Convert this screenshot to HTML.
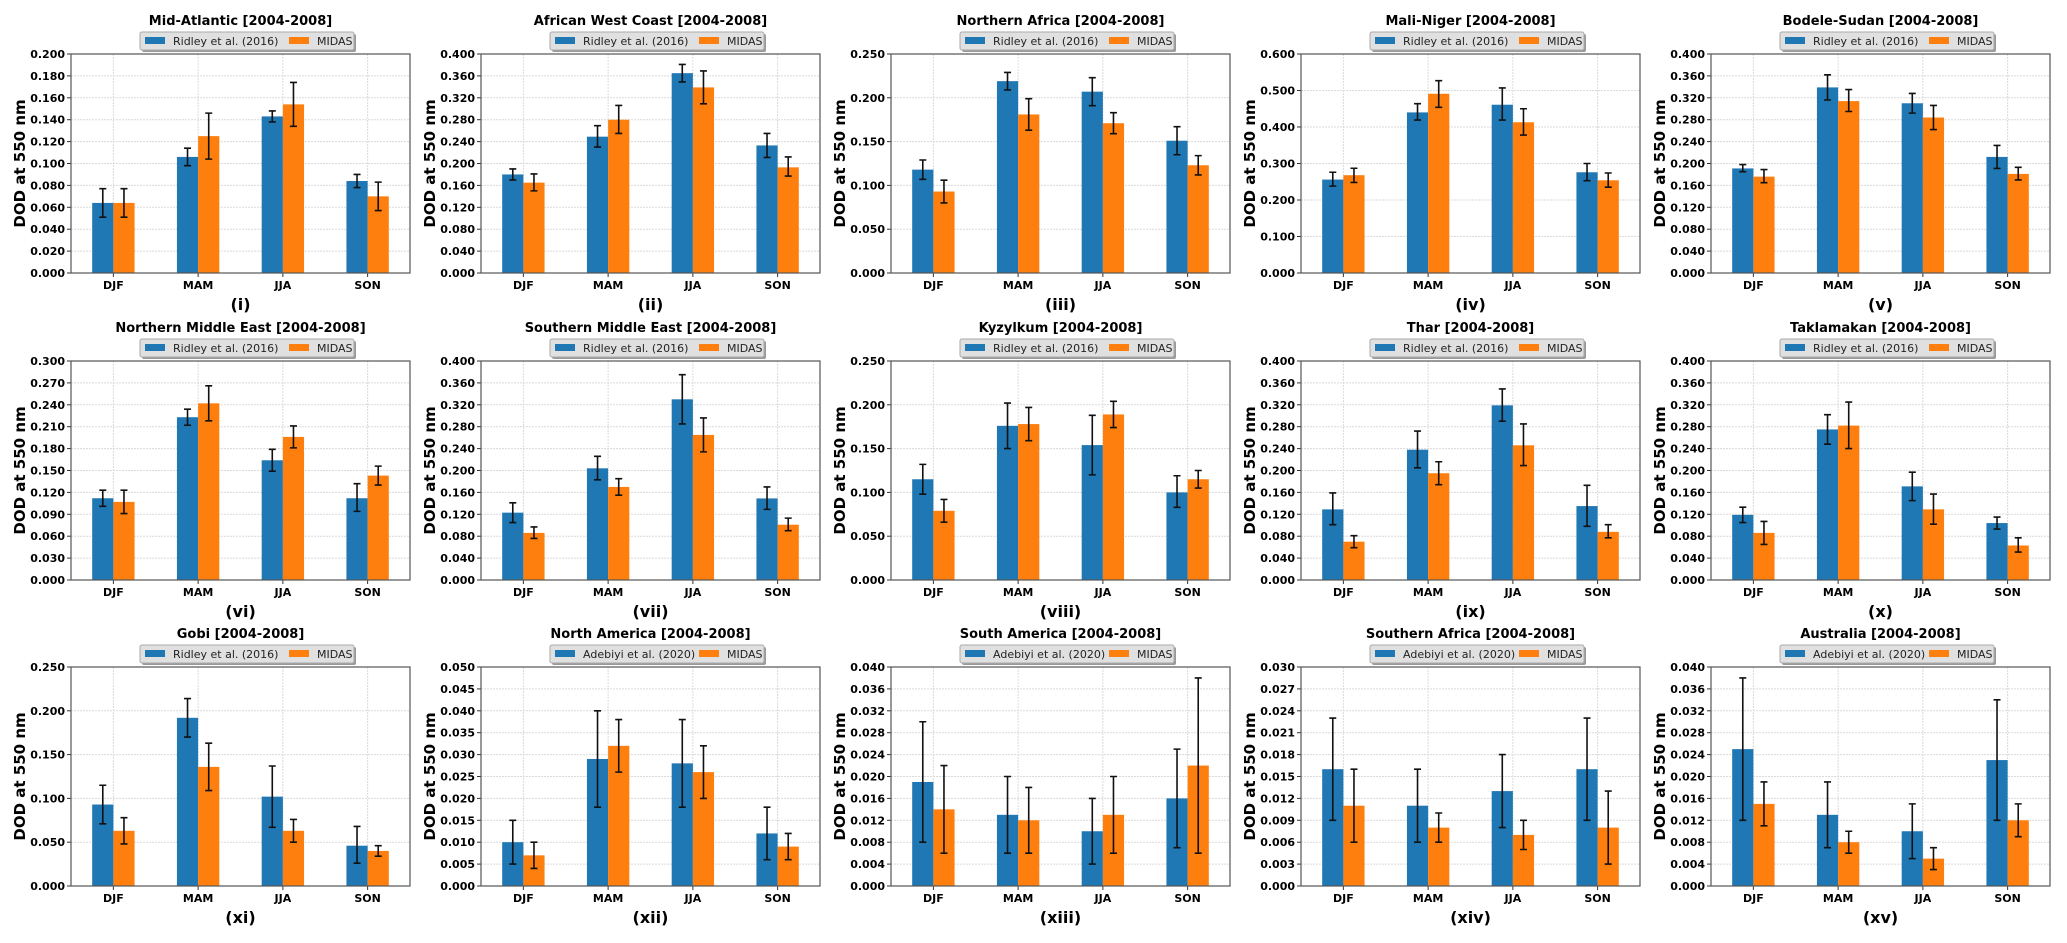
<!DOCTYPE html>
<html><head><meta charset="utf-8">
<style>
html,body{margin:0;padding:0;background:#fff;}
svg{display:block;font-family:"DejaVu Sans","Liberation Sans",sans-serif;}
</style></head>
<body>
<svg id="fig" width="2067" height="943" viewBox="0 0 2067 943"></svg>
<script>
const seasons = ["DJF","MAM","JJA","SON"];
const titles = ["Mid-Atlantic","African West Coast","Northern Africa","Mali-Niger","Bodele-Sudan","Northern Middle East","Southern Middle East","Kyzylkum","Thar","Taklamakan","Gobi","North America","South America","Southern Africa","Australia"];
const panelLabels = ["(i)","(ii)","(iii)","(iv)","(v)","(vi)","(vii)","(viii)","(ix)","(x)","(xi)","(xii)","(xiii)","(xiv)","(xv)"];
const refNames = ["Ridley et al. (2016)","Ridley et al. (2016)","Ridley et al. (2016)","Ridley et al. (2016)","Ridley et al. (2016)","Ridley et al. (2016)","Ridley et al. (2016)","Ridley et al. (2016)","Ridley et al. (2016)","Ridley et al. (2016)","Ridley et al. (2016)","Adebiyi et al. (2020)","Adebiyi et al. (2020)","Adebiyi et al. (2020)","Adebiyi et al. (2020)"];
const yMax = [0.2,0.4,0.25,0.6,0.4,0.3,0.4,0.25,0.4,0.4,0.25,0.05,0.04,0.03,0.04];
const yStep = [0.02,0.04,0.05,0.1,0.04,0.03,0.04,0.05,0.04,0.04,0.05,0.005,0.004,0.003,0.004];
const refVals = [
[0.064,0.106,0.143,0.084],[0.180,0.249,0.365,0.233],[0.118,0.219,0.207,0.151],[0.256,0.440,0.461,0.276],[0.191,0.339,0.310,0.212],
[0.112,0.223,0.164,0.112],[0.123,0.204,0.330,0.149],[0.115,0.176,0.154,0.100],[0.129,0.238,0.319,0.135],[0.119,0.275,0.171,0.104],
[0.093,0.192,0.102,0.046],[0.010,0.029,0.028,0.012],[0.019,0.013,0.010,0.016],[0.016,0.011,0.013,0.016],[0.025,0.013,0.010,0.023]];
const refLo = [
[0.051,0.098,0.138,0.078],[0.170,0.230,0.349,0.211],[0.107,0.209,0.191,0.135],[0.238,0.419,0.419,0.253],[0.185,0.316,0.292,0.191],
[0.101,0.212,0.149,0.094],[0.105,0.183,0.285,0.129],[0.098,0.150,0.120,0.083],[0.101,0.205,0.290,0.098],[0.105,0.248,0.145,0.093],
[0.071,0.170,0.067,0.026],[0.005,0.018,0.018,0.006],[0.008,0.006,0.004,0.007],[0.009,0.006,0.008,0.009],[0.012,0.007,0.005,0.012]];
const refHi = [
[0.077,0.114,0.148,0.090],[0.190,0.269,0.381,0.255],[0.129,0.229,0.223,0.167],[0.276,0.464,0.507,0.300],[0.198,0.362,0.328,0.233],
[0.123,0.234,0.179,0.132],[0.141,0.226,0.375,0.170],[0.132,0.202,0.188,0.119],[0.159,0.272,0.349,0.173],[0.133,0.302,0.197,0.115],
[0.115,0.214,0.137,0.068],[0.015,0.040,0.038,0.018],[0.030,0.020,0.016,0.025],[0.023,0.016,0.018,0.023],[0.038,0.019,0.015,0.034]];
const midasVals = [
[0.064,0.125,0.154,0.070],[0.165,0.280,0.339,0.193],[0.093,0.181,0.171,0.123],[0.268,0.491,0.413,0.254],[0.176,0.314,0.284,0.181],
[0.107,0.242,0.196,0.143],[0.086,0.170,0.265,0.101],[0.079,0.178,0.189,0.115],[0.070,0.195,0.246,0.088],[0.086,0.282,0.129,0.063],
[0.063,0.136,0.063,0.040],[0.007,0.032,0.026,0.009],[0.014,0.012,0.013,0.022],[0.011,0.008,0.007,0.008],[0.015,0.008,0.005,0.012]];
const midasLo = [
[0.051,0.104,0.134,0.057],[0.150,0.255,0.309,0.177],[0.080,0.163,0.159,0.112],[0.248,0.454,0.378,0.235],[0.165,0.295,0.262,0.170],
[0.091,0.218,0.181,0.130],[0.076,0.155,0.234,0.090],[0.066,0.159,0.174,0.105],[0.059,0.174,0.209,0.077],[0.065,0.240,0.102,0.051],
[0.048,0.109,0.050,0.034],[0.004,0.026,0.020,0.006],[0.006,0.006,0.006,0.006],[0.006,0.006,0.005,0.003],[0.011,0.006,0.003,0.009]];
const midasHi = [
[0.077,0.146,0.174,0.083],[0.181,0.306,0.369,0.212],[0.106,0.199,0.183,0.134],[0.287,0.527,0.450,0.274],[0.189,0.335,0.306,0.193],
[0.123,0.266,0.211,0.156],[0.097,0.185,0.296,0.113],[0.092,0.197,0.204,0.125],[0.081,0.216,0.285,0.101],[0.107,0.325,0.157,0.077],
[0.078,0.163,0.076,0.046],[0.010,0.038,0.032,0.012],[0.022,0.018,0.020,0.038],[0.016,0.010,0.009,0.013],[0.019,0.010,0.007,0.015]];

const NS = "http://www.w3.org/2000/svg";
const svg = document.getElementById("fig");
const AX_W = 339, AX_H = 219;
const colLeft = [71, 481, 891, 1301, 1711];
const rowTop = [54, 361, 667];
const BLUE = "#1f77b4", ORANGE = "#ff7f0e";

function mk(tag, attrs, parent) {
  const e = document.createElementNS(NS, tag);
  for (const k in attrs) e.setAttribute(k, attrs[k]);
  parent.appendChild(e);
  return e;
}
function txt(s, attrs, parent) { const e = mk("text", attrs, parent); e.textContent = s; return e; }

for (let p = 0; p < 15; p++) {
  const L = colLeft[p % 5], T = rowTop[Math.floor(p / 5)], B = T + AX_H;
  const g = mk("g", {}, svg);
  
  
  const xScale = v => L + (v + 0.5) * AX_W / 4;
  const yScale = v => B - v / yMax[p] * AX_H;

  const nT = Math.round(yMax[p] / yStep[p]);
  for (let i = 0; i <= nT; i++) {
    const v = i * yStep[p], y = yScale(v);
    const gl = mk("line", {x1: L, x2: L + AX_W, y1: y, y2: y, stroke: "#dadada", "stroke-width": 1, "stroke-dasharray": "2,1"}, g);
    
    
    mk("line", {x1: L - 4, x2: L, y1: y, y2: y, stroke: "#333", "stroke-width": 1}, g);
    const tl = txt(v.toFixed(3), {x: L - 6, y: y + 4, "text-anchor": "end", "font-size": 11, "font-weight": "bold", fill: "#000"}, g);
    
    
  }
  for (let c = 0; c < 4; c++) {
    const x = xScale(c);
    const gl = mk("line", {x1: x, x2: x, y1: T, y2: B, stroke: "#dadada", "stroke-width": 1, "stroke-dasharray": "2,1"}, g);
    
    
    mk("line", {x1: x, x2: x, y1: B, y2: B + 4, stroke: "#333", "stroke-width": 1}, g);
    const xl = txt(seasons[c], {x: x, y: B + 16, "text-anchor": "middle", "font-size": 11, "font-weight": "bold", fill: "#000"}, g);
    
    
  }
  const bw = AX_W / 4 * 0.25;
  const series = [[refVals, refLo, refHi, BLUE, -1, 'ref'], [midasVals, midasLo, midasHi, ORANGE, 0, 'midas']];
  for (const [vals, lo, hi, col, off, nm] of series) {
    for (let c = 0; c < 4; c++) {
      const x0 = xScale(c) + off * bw;
      const r = mk("rect", {x: x0, y: yScale(vals[p][c]), width: bw, height: B - yScale(vals[p][c]), fill: col}, g);
      
      
      const xm = x0 + bw / 2, y1 = yScale(lo[p][c]), y2 = yScale(hi[p][c]);
      const eb = mk("path", {d: `M${xm},${y1}V${y2}M${xm - 3.5},${y1}H${xm + 3.5}M${xm - 3.5},${y2}H${xm + 3.5}`, stroke: "#111", "stroke-width": 1.6, fill: "none"}, g);
      
      
    }
  }
  const fr = mk("rect", {x: L, y: T, width: AX_W, height: AX_H, fill: "none", stroke: "#555", "stroke-width": 1.2}, g);
  
  

  const tt = txt(titles[p] + " [2004-2008]", {x: L + AX_W / 2, y: T - 29, "text-anchor": "middle", "font-size": 13, "font-weight": "bold", fill: "#000"}, g);
  
  

  const lg = mk("g", {}, g);
  
  
  const lx = L + 69, ly = T - 22;
  mk("rect", {x: lx + 2, y: ly + 2, width: 214, height: 18, fill: "#999", rx: 2}, lg);
  mk("rect", {x: lx, y: ly, width: 214, height: 18, fill: "#e0e0e0", stroke: "#aaa", "stroke-width": 1, rx: 2}, lg);
  mk("rect", {x: lx + 5, y: ly + 5, width: 20, height: 7, fill: BLUE}, lg);
  const le1 = txt(refNames[p], {x: lx + 33, y: ly + 13, "font-size": 11, fill: "#222"}, lg);
  
  
  mk("rect", {x: lx + 149, y: ly + 5, width: 20, height: 7, fill: ORANGE}, lg);
  const le2 = txt("MIDAS", {x: lx + 177, y: ly + 13, "font-size": 11, fill: "#222"}, lg);
  
  

  const yl = txt("DOD at 550 nm", {x: 0, y: 0, "text-anchor": "middle", "font-size": 15, "font-weight": "bold", fill: "#000", transform: `translate(${L - 46},${T + AX_H / 2}) rotate(-90)`}, g);
  
  
  const pl = txt(panelLabels[p], {x: L + AX_W / 2, y: B + 37, "text-anchor": "middle", "font-size": 16, "font-weight": "bold", fill: "#000"}, g);
  
  
}
</script>
</body></html>
